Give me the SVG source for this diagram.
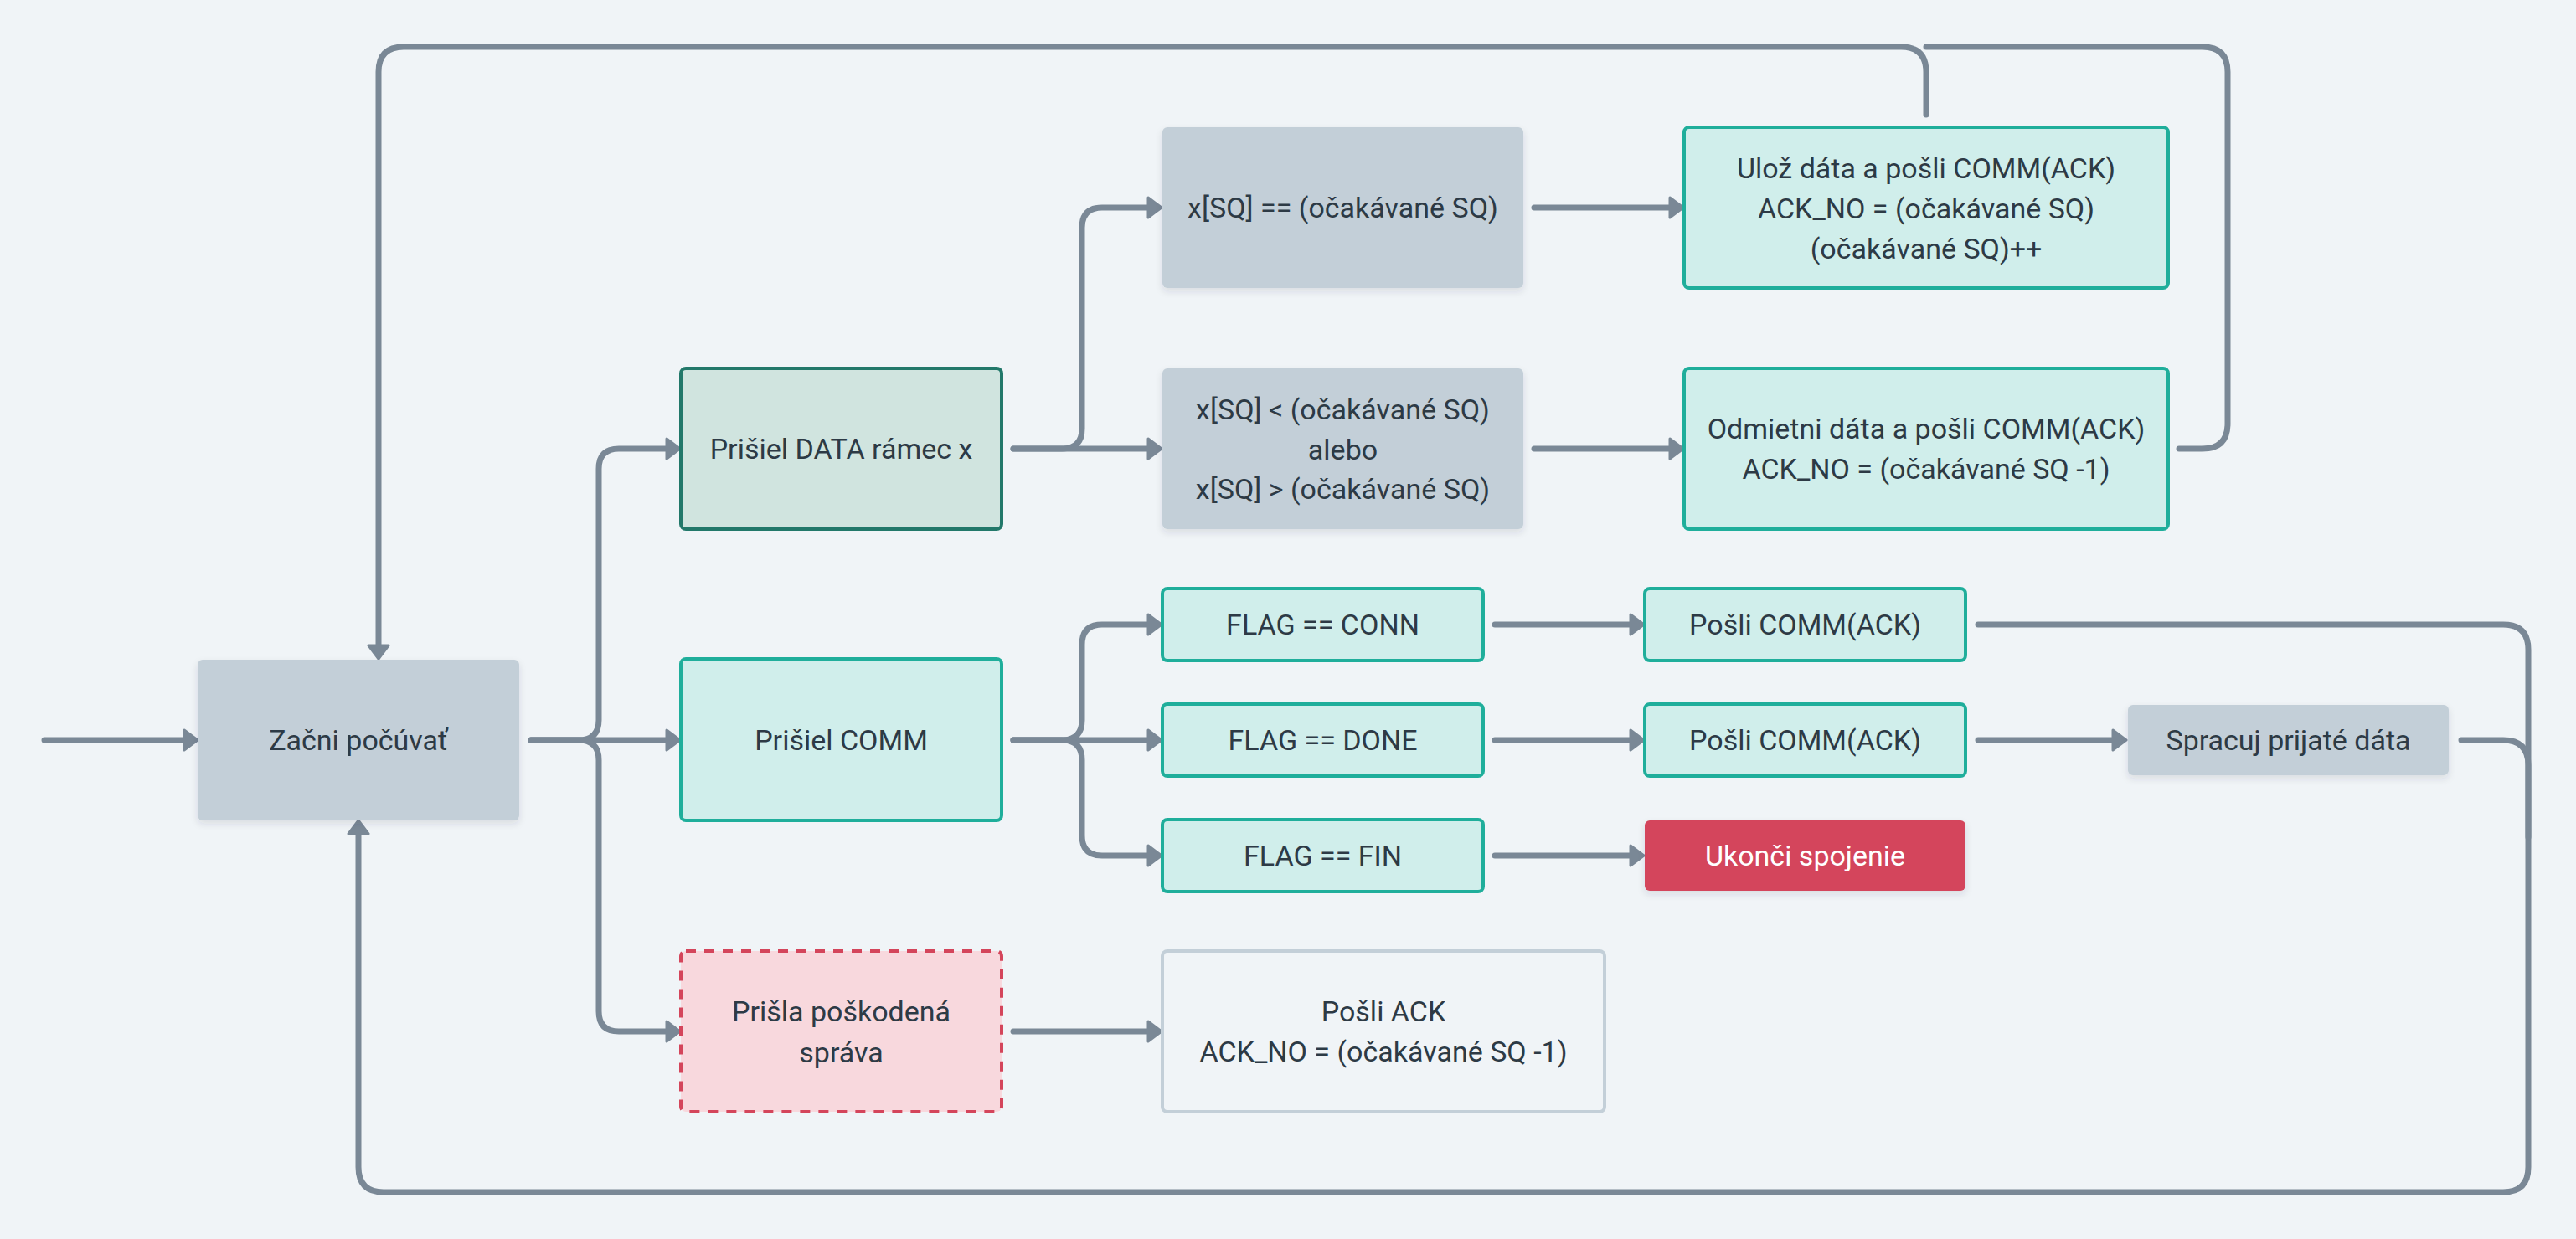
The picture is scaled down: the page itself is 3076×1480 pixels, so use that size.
<svg xmlns="http://www.w3.org/2000/svg" width="3076" height="1480" viewBox="0 0 3076 1480">
<defs>
<style>
.bg{fill:#f0f4f7}
.gray{fill:#c3cfd8}
.teal{fill:#d0eeeb;stroke:#1fae9b;stroke-width:4}
.data{fill:#d0e4df;stroke:#22786a;stroke-width:4}
.bad{fill:#f8d8dd;stroke:#d4455b;stroke-width:4;stroke-dasharray:12 10}
.plain{fill:#f0f4f7;stroke:#c3cfd8;stroke-width:4}
.red{fill:#d4455b}
text{font-family:"Roboto","Liberation Sans",sans-serif;font-size:34px;fill:#2d3a45;text-anchor:middle;dominant-baseline:central}
text.w{fill:#ffffff}
.c{fill:none;stroke:#7a8896;stroke-width:7;stroke-linecap:round;stroke-linejoin:round}
</style>
<marker id="ah" viewBox="0 0 20 28" markerWidth="20" markerHeight="28" refX="2" refY="14" orient="auto" markerUnits="userSpaceOnUse">
<path d="M2,2 L18,14 L2,26 Z" fill="#7a8896" stroke="#7a8896" stroke-width="3" stroke-linejoin="round"/>
</marker>
<filter id="sh" x="-10%" y="-10%" width="120%" height="130%">
<feDropShadow dx="0" dy="4" stdDeviation="4" flood-color="#2d3a45" flood-opacity="0.12"/>
</filter>
</defs>
<rect class="bg" x="0" y="0" width="3076" height="1480"/>
<g id="connectors">
<path class="c" marker-end="url(#ah)" d="M53,884 H220"/>
<path class="c" marker-end="url(#ah)" d="M634,884 H796"/>
<path class="c" marker-end="url(#ah)" d="M634,884 H691 Q715,884 715,860 V560 Q715,536 739,536 H796"/>
<path class="c" marker-end="url(#ah)" d="M634,884 H691 Q715,884 715,908 V1208 Q715,1232 739,1232 H796"/>
<path class="c" marker-end="url(#ah)" d="M1210,536 H1268 Q1292,536 1292,512 V272 Q1292,248 1316,248 H1371"/>
<path class="c" marker-end="url(#ah)" d="M1210,536 H1371"/>
<path class="c" marker-end="url(#ah)" d="M1832,248 H1994"/>
<path class="c" marker-end="url(#ah)" d="M1832,536 H1994"/>
<path class="c" marker-end="url(#ah)" d="M2300,137 V86 Q2300,56 2270,56 H482 Q452,56 452,86 V771"/>
<path class="c" d="M2602,536 H2630 Q2660,536 2660,506 V86 Q2660,56 2630,56 H2300"/>
<path class="c" marker-end="url(#ah)" d="M1210,884 H1268 Q1292,884 1292,860 V770 Q1292,746 1316,746 H1371"/>
<path class="c" marker-end="url(#ah)" d="M1210,884 H1371"/>
<path class="c" marker-end="url(#ah)" d="M1210,884 H1268 Q1292,884 1292,908 V998 Q1292,1022 1316,1022 H1371"/>
<path class="c" marker-end="url(#ah)" d="M1785,746 H1947"/>
<path class="c" marker-end="url(#ah)" d="M1785,884 H1947"/>
<path class="c" marker-end="url(#ah)" d="M1785,1022 H1947"/>
<path class="c" marker-end="url(#ah)" d="M2362,884 H2523"/>
<path class="c" marker-end="url(#ah)" d="M2362,746 H2989 Q3019,746 3019,776 V1394 Q3019,1424 2989,1424 H458 Q428,1424 428,1394 V996"/>
<path class="c" d="M2939,884 H2989 Q3019,884 3019,914 V1000"/>
<path class="c" marker-end="url(#ah)" d="M1210,1232 H1371"/>
</g>
<g id="n-start"><rect class="gray" filter="url(#sh)" x="236" y="788" width="384" height="192" rx="6"/><text x="428" y="884">Začni počúvať</text></g>
<g id="n-data"><rect class="data" x="813" y="440" width="383" height="192" rx="6"/><text x="1004.5" y="536">Prišiel DATA rámec x</text></g>
<g id="n-comm"><rect class="teal" x="813" y="787" width="383" height="193" rx="6"/><text x="1004.5" y="884">Prišiel COMM</text></g>
<g id="n-bad"><rect class="bad" x="813" y="1136" width="383" height="192" rx="6"/><text x="1004.5" y="1208">Prišla poškodená</text><text x="1004.5" y="1257">správa</text></g>
<g id="n-eq"><rect class="gray" filter="url(#sh)" x="1388" y="152" width="431" height="192" rx="6"/><text x="1603.5" y="248">x[SQ] == (očakávané SQ)</text></g>
<g id="n-neq"><rect class="gray" filter="url(#sh)" x="1388" y="440" width="431" height="192" rx="6"/><text x="1603.5" y="489">x[SQ] &lt; (očakávané SQ)</text><text x="1603.5" y="537">alebo</text><text x="1603.5" y="584">x[SQ] &gt; (očakávané SQ)</text></g>
<g id="n-save"><rect class="teal" x="2011" y="152" width="578" height="192" rx="6"/><text x="2300" y="201">Ulož dáta a pošli COMM(ACK)</text><text x="2300" y="249">ACK_NO = (očakávané SQ)</text><text x="2300" y="297">(očakávané SQ)++</text></g>
<g id="n-reject"><rect class="teal" x="2011" y="440" width="578" height="192" rx="6"/><text x="2300" y="512">Odmietni dáta a pošli COMM(ACK)</text><text x="2300" y="560">ACK_NO = (očakávané SQ -1)</text></g>
<g id="n-conn"><rect class="teal" x="1388" y="703" width="383" height="86" rx="6"/><text x="1579.5" y="746">FLAG == CONN</text></g>
<g id="n-done"><rect class="teal" x="1388" y="841" width="383" height="86" rx="6"/><text x="1579.5" y="884">FLAG == DONE</text></g>
<g id="n-fin"><rect class="teal" x="1388" y="979" width="383" height="86" rx="6"/><text x="1579.5" y="1022">FLAG == FIN</text></g>
<g id="n-ack1"><rect class="teal" x="1964" y="703" width="383" height="86" rx="6"/><text x="2155.5" y="746">Pošli COMM(ACK)</text></g>
<g id="n-ack2"><rect class="teal" x="1964" y="841" width="383" height="86" rx="6"/><text x="2155.5" y="884">Pošli COMM(ACK)</text></g>
<g id="n-end"><rect class="red" filter="url(#sh)" x="1964" y="980" width="383" height="84" rx="6"/><text class="w" x="2155.5" y="1022">Ukonči spojenie</text></g>
<g id="n-process"><rect class="gray" filter="url(#sh)" x="2541" y="842" width="383" height="84" rx="6"/><text x="2732.5" y="884">Spracuj prijaté dáta</text></g>
<g id="n-sendack"><rect class="plain" x="1388" y="1136" width="528" height="192" rx="6"/><text x="1652" y="1208">Pošli ACK</text><text x="1652" y="1256">ACK_NO = (očakávané SQ -1)</text></g>
</svg>
